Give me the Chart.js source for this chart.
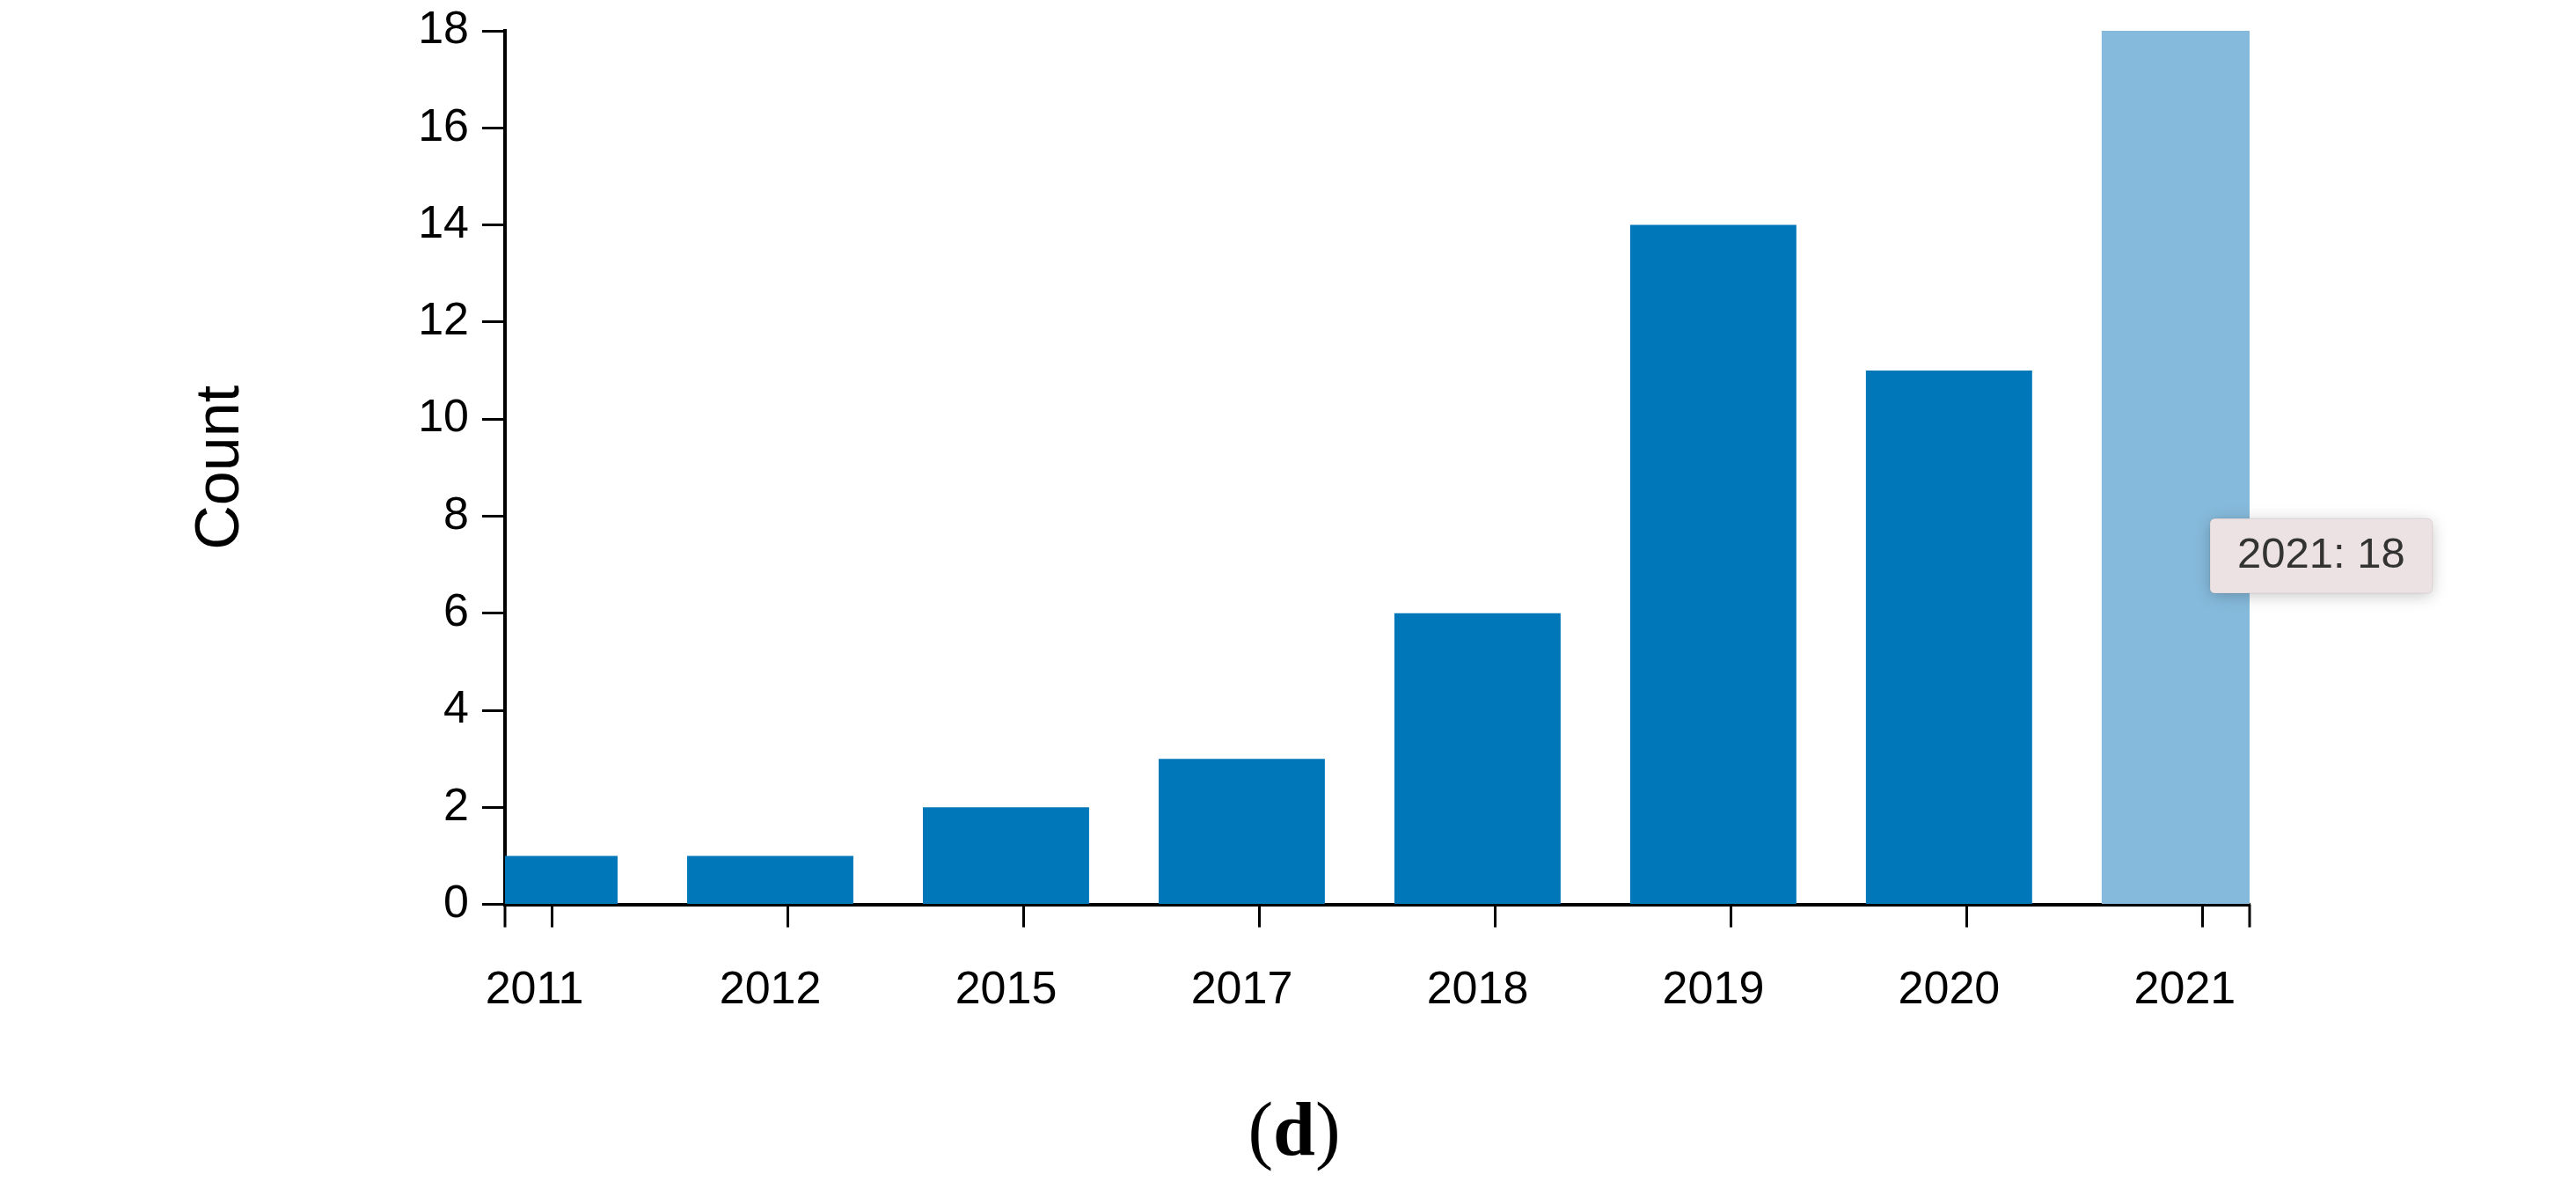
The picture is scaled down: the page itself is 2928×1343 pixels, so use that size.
<!DOCTYPE html>
<html>
<head>
<meta charset="utf-8">
<script src="https://cdn.jsdelivr.net/npm/chart.js@4.4.1/dist/chart.umd.min.js"></script>
<style>
    html, body { margin: 0; padding: 0; background: #fff; }
    #wrap { position: relative; width: 2928px; height: 1343px; }
    #panel {
        position: absolute; left: 1471px; top: 1240px; transform: translateX(-50%);
        font-family: "Liberation Serif", "Times New Roman", serif;
        font-size: 86px; line-height: 86px; color: #000;
    }
</style>
</head>
<body>
<div id="wrap">
    <canvas id="barChart"></canvas>
    <div id="panel">(<b>d</b>)</div>
</div>
<script>
// data
const years = ['2011', '2012', '2015', '2017', '2018', '2019', '2020', '2021'];
const counts = [1, 1, 2, 3, 6, 14, 11, 18];
const barColors = ['#0077b9', '#0077b9', '#0077b9', '#0077b9', '#0077b9', '#0077b9', '#0077b9', '#86badc'];
const yTicks = [0, 2, 4, 6, 8, 10, 12, 14, 16, 18];

// tick marks sit a little right of the bar centres, axis runs a bit past both ends
const tickShift = 0.075;

Chart.defaults.font.family = '"Liberation Sans", Arial, sans-serif';
Chart.defaults.color = '#000';

Chart.Tooltip.positioners.pinned = function () {
    const area = this.chart.chartArea;
    return { x: area.right - 45, y: this.chart.scales.y.getPixelForValue(7.18) };
};

const extras = {
    id: 'extras',
    afterDatasetsDraw(chart) {
        // outer ticks at both ends of the x domain
        const { ctx, chartArea } = chart;
        ctx.save();
        ctx.strokeStyle = '#000';
        ctx.lineWidth = 3;
        [chartArea.left, chartArea.right].forEach(x => {
            ctx.beginPath();
            ctx.moveTo(x, chartArea.bottom);
            ctx.lineTo(x, chartArea.bottom + 26);
            ctx.stroke();
        });
        ctx.restore();
    },
    beforeTooltipDraw(chart, args) {
        const tt = args.tooltip;
        const ctx = chart.ctx;
        ctx.save();
        ctx.shadowColor = 'rgba(0, 0, 0, 0.22)';
        ctx.shadowBlur = 18;
        ctx.shadowOffsetY = 3;
        ctx.fillStyle = '#ece2e3';
        ctx.beginPath();
        ctx.roundRect(tt.x, tt.y, tt.width, tt.height, 6);
        ctx.fill();
        ctx.restore();
    }
};

const chart = new Chart(document.getElementById('barChart'), {
    type: 'bar',
    data: {
        datasets: [{
            label: 'Count',
            data: years.map((y, i) => ({ x: i, y: counts[i] })),
            backgroundColor: barColors,
            borderWidth: 0,
            categoryPercentage: 1,
            barPercentage: 0.705,
            clip: 0
        }]
    },
    options: {
        responsive: true,
        maintainAspectRatio: false,
        devicePixelRatio: 1,
        animation: false,
        events: [],
        layout: { padding: { left: 0, right: 371, top: 35, bottom: 145 } },
        scales: {
            x: {
                type: 'linear',
                offset: false,
                min: -0.2 + tickShift,
                max: 7.2 + tickShift,
                z: 1,
                afterBuildTicks: scale => {
                    scale.ticks = years.map((y, i) => ({ value: i + tickShift }));
                },
                grid: {
                    offset: false,
                    drawOnChartArea: false,
                    drawTicks: true,
                    tickLength: 26,
                    tickWidth: 3,
                    tickColor: '#000'
                },
                border: { display: true, color: '#000', width: 4 },
                ticks: {
                    autoSkip: false,
                    maxRotation: 0,
                    padding: 41,
                    labelOffset: -20,
                    font: { size: 52 },
                    color: '#000',
                    callback: (value, index) => years[index]
                }
            },
            y: {
                min: 0,
                max: 18,
                z: 1,
                afterBuildTicks: scale => {
                    scale.ticks = yTicks.map(v => ({ value: v }));
                },
                afterFit: scale => {
                    scale.width = 574;
                    scale.paddingTop = 0;
                    scale.paddingBottom = 0;
                },
                grid: {
                    drawOnChartArea: false,
                    drawTicks: true,
                    tickLength: 26,
                    tickWidth: 3,
                    tickColor: '#000'
                },
                border: { display: true, color: '#000', width: 4 },
                ticks: {
                    padding: 15,
                    font: { size: 52 },
                    color: '#000'
                },
                title: {
                    display: true,
                    text: 'Count',
                    font: { size: 70 },
                    color: '#000',
                    padding: { top: 210, bottom: 0 }
                }
            }
        },
        plugins: {
            legend: { display: false },
            tooltip: {
                enabled: true,
                position: 'pinned',
                xAlign: 'left',
                yAlign: 'center',
                caretSize: 0,
                caretPadding: 0,
                backgroundColor: '#ece2e3',
                borderColor: 'rgba(0, 0, 0, 0.08)',
                borderWidth: 1,
                cornerRadius: 6,
                displayColors: false,
                padding: { left: 31, right: 31, top: 13, bottom: 13 },
                bodyColor: '#333333',
                bodyFont: { size: 49 },
                callbacks: {
                    title: () => [],
                    label: ctx => years[ctx.dataIndex] + ': ' + ctx.parsed.y
                }
            }
        }
    },
    plugins: [extras]
});

chart.tooltip.setActiveElements([{ datasetIndex: 0, index: 7 }], { x: 0, y: 0 });
chart.update();
</script>
</body>
</html>
